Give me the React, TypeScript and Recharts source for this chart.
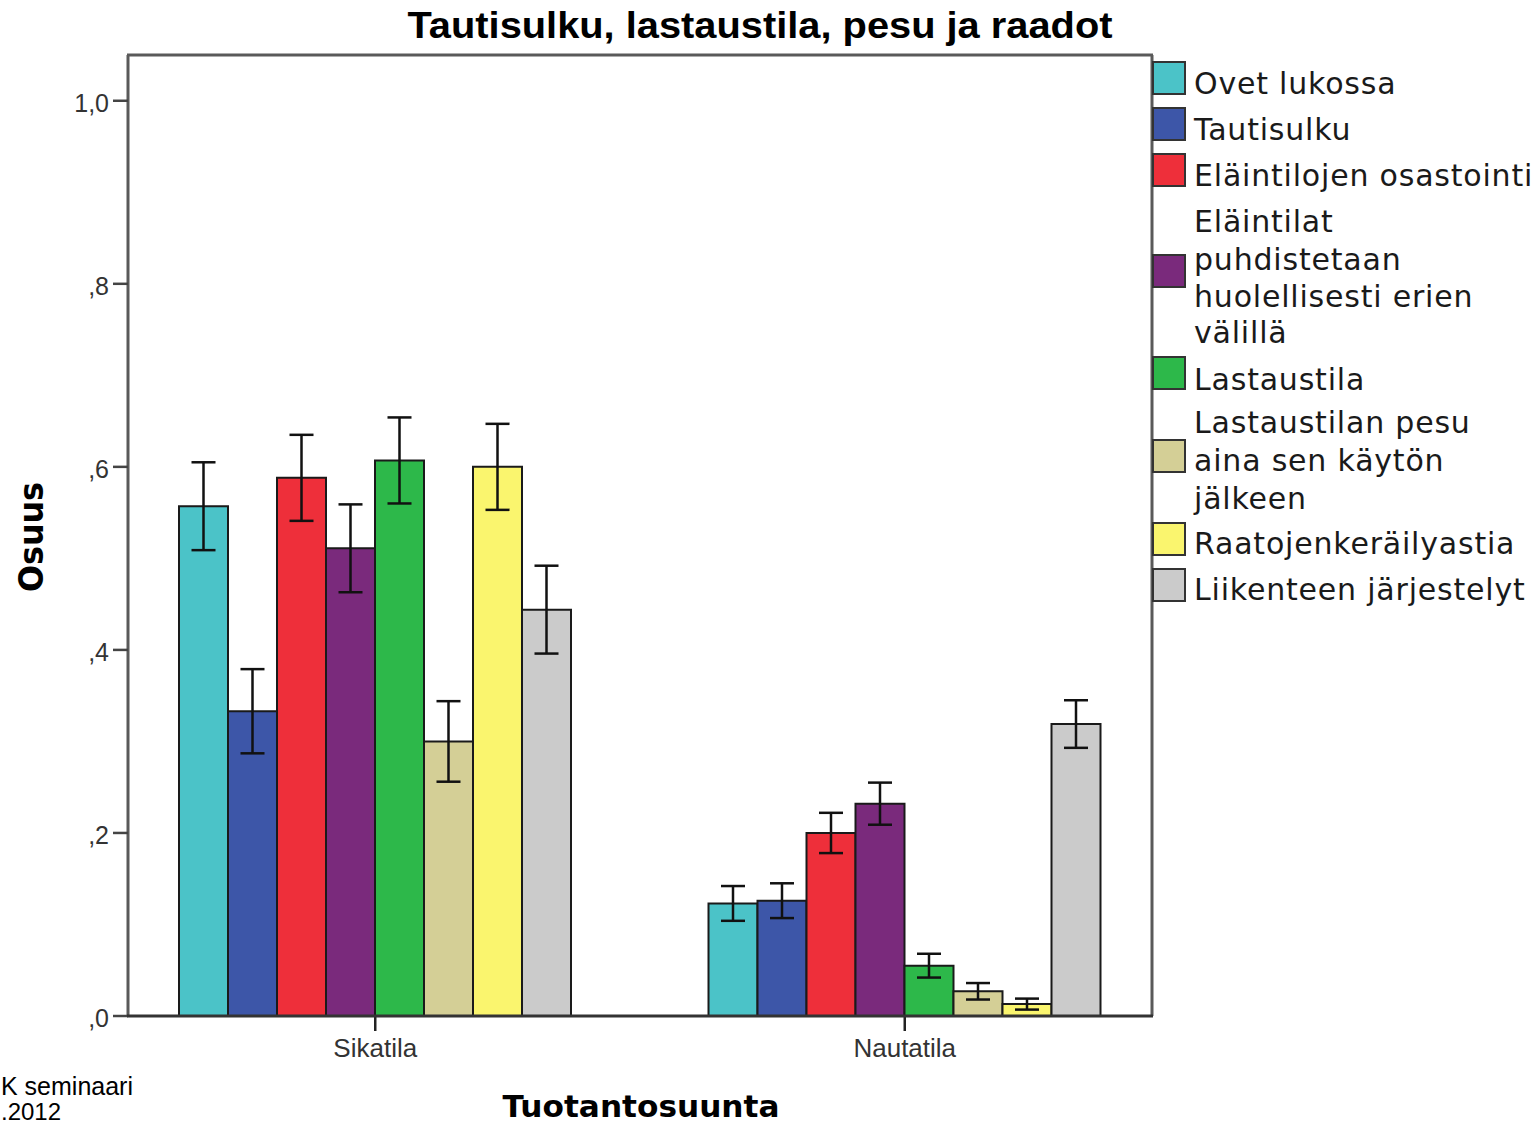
import React from 'react';
import { BarChart, Bar, XAxis, YAxis, ErrorBar } from 'recharts';

// kategoriat ja sarjat (osuus + virhepalkin puolikas)
const categories = ['Sikatila', 'Nautatila'];

const ovetLukossa = [0.557, 0.123];
const ovetLukossaErr = [0.048, 0.019];
const tautisulku = [0.333, 0.126];
const tautisulkuErr = [0.046, 0.019];
const osastointi = [0.588, 0.2];
const osastointiErr = [0.047, 0.022];
const puhdistus = [0.511, 0.232];
const puhdistusErr = [0.048, 0.023];
const lastaustila = [0.607, 0.055];
const lastaustilaErr = [0.047, 0.013];
const lastaustilanPesu = [0.3, 0.027];
const lastaustilanPesuErr = [0.044, 0.009];
const raatoastia = [0.6, 0.013];
const raatoastiaErr = [0.047, 0.006];
const liikenne = [0.444, 0.319];
const liikenneErr = [0.048, 0.026];

const yTicks = [0, 0.2, 0.4, 0.6, 0.8, 1.0];

const SERIES = [
  { key: 'ovet', lines: ['Ovet lukossa'], color: '#4bc3c8', values: ovetLukossa, err: ovetLukossaErr },
  { key: 'tauti', lines: ['Tautisulku'], color: '#3d56a8', values: tautisulku, err: tautisulkuErr },
  { key: 'osast', lines: ['Eläintilojen osastointi'], color: '#ee2f3a', values: osastointi, err: osastointiErr },
  {
    key: 'puhd',
    lines: ['Eläintilat', 'puhdistetaan', 'huolellisesti erien', 'välillä'],
    color: '#7a2a7c',
    values: puhdistus,
    err: puhdistusErr,
  },
  { key: 'last', lines: ['Lastaustila'], color: '#2db84a', values: lastaustila, err: lastaustilaErr },
  {
    key: 'pesu',
    lines: ['Lastaustilan pesu', 'aina sen käytön', 'jälkeen'],
    color: '#d4cf96',
    values: lastaustilanPesu,
    err: lastaustilanPesuErr,
  },
  { key: 'raato', lines: ['Raatojenkeräilyastia'], color: '#faf56e', values: raatoastia, err: raatoastiaErr },
  { key: 'liik', lines: ['Liikenteen järjestelyt'], color: '#cbcbcb', values: liikenne, err: liikenneErr },
];

const data = categories.map((name, i) => {
  const row: any = { name };
  SERIES.forEach((s) => {
    row[s.key] = s.values[i];
    row[s.key + 'Err'] = s.err[i];
  });
  return row;
});

const fmtY = (v: number) => {
  const s = v.toFixed(1).replace('.', ',');
  return s.startsWith('0') ? s.slice(1) : s;
};

// legendan sijoittelu (swatch-yläreuna ja rivien perusviivat)
const LEGEND_LAYOUT = [
  { box: 62, base: [94] },
  { box: 108, base: [140] },
  { box: 154, base: [186] },
  { box: 255, base: [232, 270, 307, 343] },
  { box: 357, base: [390] },
  { box: 440, base: [433, 471, 509] },
  { box: 523, base: [554] },
  { box: 569, base: [600] },
];

export default function App() {
  return (
    <div style={{ position: 'absolute', left: 0, top: 0, width: 1538, height: 1127, background: '#fff', overflow: 'hidden' }}>
      <BarChart
        width={1538}
        height={1127}
        data={data}
        margin={{ top: 55, right: 386, bottom: 71, left: 68 }}
        barCategoryGap={68.5}
        barGap={0}
      >
        <XAxis
          dataKey="name"
          height={40}
          padding={{ left: -17.5, right: -17.5 }}
          axisLine={false}
          tickSize={15}
          tickMargin={8}
          tickLine={{ stroke: '#222', strokeWidth: 2.5 }}
          tick={{ fill: '#333', fontSize: 26, fontFamily: 'Liberation Sans, Arial, sans-serif' }}
        />
        <YAxis
          width={60}
          domain={[0, 1.05]}
          ticks={yTicks}
          tickFormatter={fmtY}
          axisLine={{ stroke: '#5a5a5a', strokeWidth: 3 }}
          tickSize={15}
          tickMargin={4}
          tickLine={{ stroke: '#444', strokeWidth: 2.5 }}
          tick={{ fill: '#333', fontSize: 25, fontFamily: 'Liberation Sans, Arial, sans-serif', dy: 2 }}
        />
        {SERIES.map((s) => (
          <Bar key={s.key} dataKey={s.key} fill={s.color} stroke="#1a1a1a" strokeWidth={2} isAnimationActive={false}>
            <ErrorBar dataKey={s.key + 'Err'} width={12} strokeWidth={2.5} stroke="#111" direction="y" />
          </Bar>
        ))}
      </BarChart>

      <svg
        width={1538}
        height={1127}
        style={{ position: 'absolute', left: 0, top: 0, pointerEvents: 'none' }}
      >
        {/* kehys */}
        <line x1={127} y1={55} x2={1153} y2={55} stroke="#5a5a5a" strokeWidth={3} />
        <line x1={1152} y1={55} x2={1152} y2={1016} stroke="#5a5a5a" strokeWidth={3} />
        <line x1={127} y1={1016} x2={1153} y2={1016} stroke="#333" strokeWidth={3} />

        <text
          x={760}
          y={38}
          textAnchor="middle"
          fontFamily="Liberation Sans, Arial, sans-serif"
          fontWeight="bold"
          fontSize={36}
          textLength={705}
          lengthAdjust="spacingAndGlyphs"
          fill="#000"
        >
          Tautisulku, lastaustila, pesu ja raadot
        </text>

        <text
          x={641}
          y={1117}
          textAnchor="middle"
          fontFamily="DejaVu Sans, sans-serif"
          fontWeight="bold"
          fontSize={31}
          textLength={277}
          lengthAdjust="spacingAndGlyphs"
          fill="#000"
        >
          Tuotantosuunta
        </text>

        <text
          transform="translate(43,537) rotate(-90)"
          textAnchor="middle"
          fontFamily="DejaVu Sans, sans-serif"
          fontWeight="bold"
          fontSize={33}
          textLength={110}
          lengthAdjust="spacingAndGlyphs"
          fill="#000"
        >
          Osuus
        </text>

        {/* legenda */}
        {SERIES.map((s, i) => (
          <g key={s.key}>
            <rect x={1153} y={LEGEND_LAYOUT[i].box} width={32} height={32} fill={s.color} stroke="#333" strokeWidth={2} />
            {s.lines.map((ln, j) => (
              <text
                key={j}
                x={1194}
                y={LEGEND_LAYOUT[i].base[j]}
                fontFamily="DejaVu Sans, sans-serif"
                fontSize={30}
                letterSpacing={0.8}
                fill="#1a1a1a"
              >
                {ln}
              </text>
            ))}
          </g>
        ))}

        <text x={1} y={1095} fontFamily="Liberation Sans, Arial, sans-serif" fontSize={25} fill="#000">
          K seminaari
        </text>
        <text x={1} y={1120} fontFamily="Liberation Sans, Arial, sans-serif" fontSize={24} fill="#000">
          .2012
        </text>
      </svg>
    </div>
  );
}
